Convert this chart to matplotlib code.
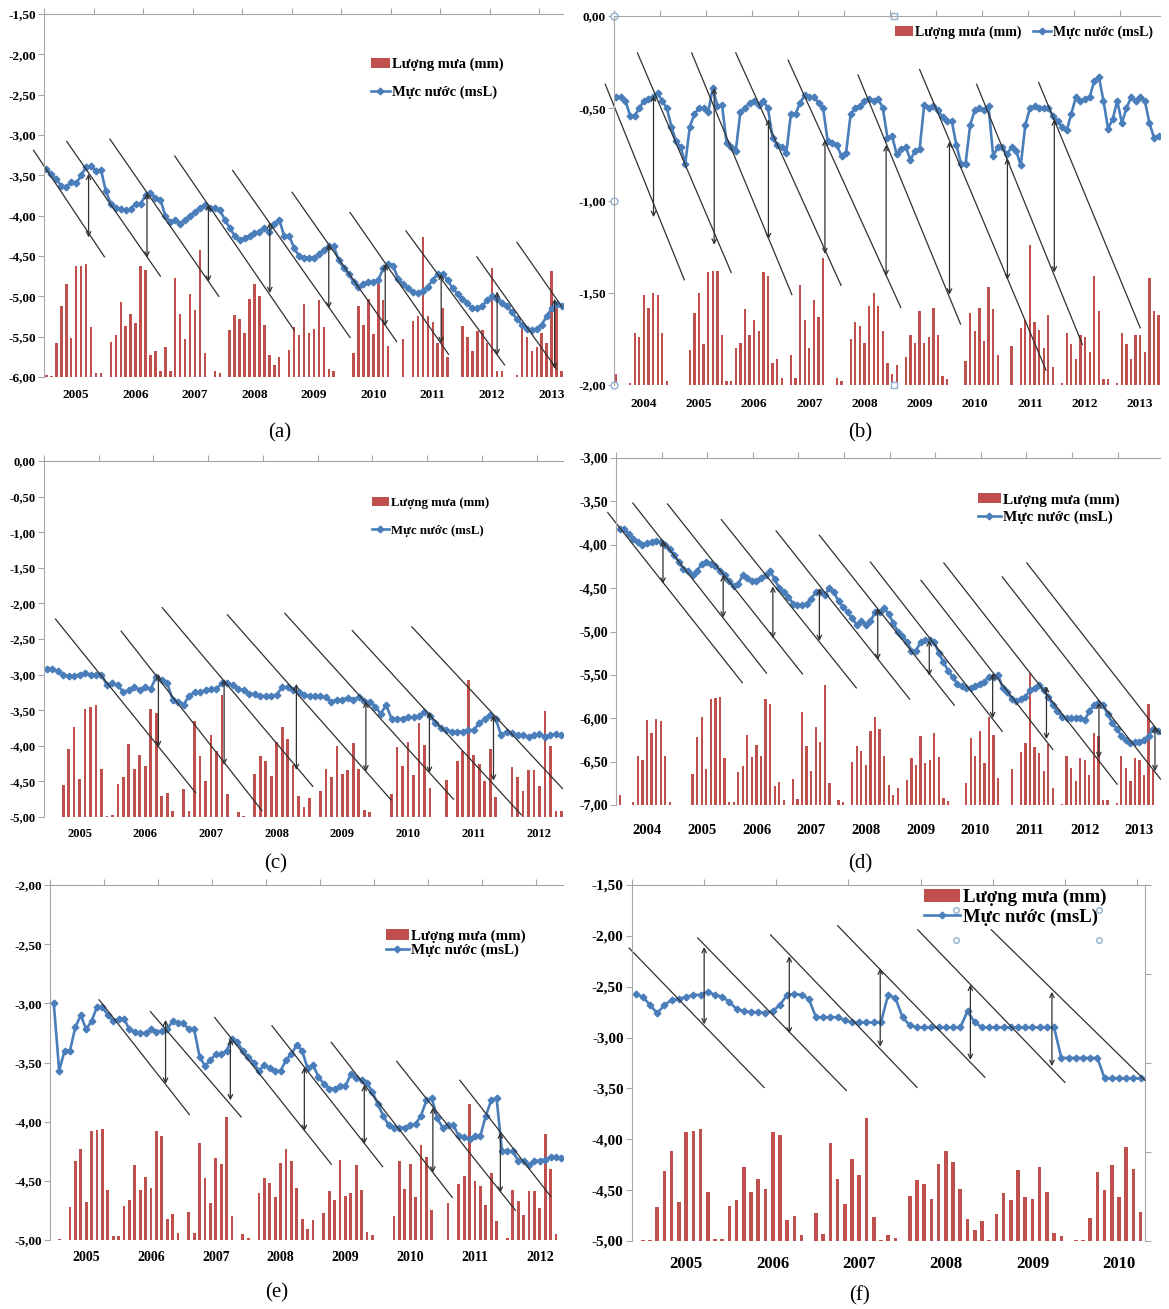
import numpy as np
import matplotlib.pyplot as plt
from matplotlib.lines import Line2D
from matplotlib.patches import Patch

plt.rcParams['font.family'] = ['Liberation Serif', 'DejaVu Serif']

RAIN_LABEL = 'Lượng mưa (mm)'
LEVEL_LABEL = 'Mực nước (msL)'
RED = '#C0504D'
BLUE = '#4A7EBB'
GREY = '#A6A6A6'

# ---------------- (a) ----------------
a_level = [-3.42, -3.48, -3.55, -3.63, -3.65, -3.58, -3.60, -3.50, -3.40, -3.38, -3.45, -3.43,
           -3.70, -3.85, -3.90, -3.92, -3.93, -3.92, -3.85, -3.85, -3.75, -3.72, -3.78, -3.80,
           -4.00, -4.08, -4.05, -4.10, -4.05, -4.00, -3.95, -3.90, -3.87, -3.90, -3.90, -3.93,
           -4.05, -4.15, -4.25, -4.30, -4.28, -4.25, -4.22, -4.20, -4.15, -4.20, -4.10, -4.05,
           -4.25, -4.25, -4.40, -4.50, -4.52, -4.52, -4.52, -4.48, -4.42, -4.38, -4.38, -4.55,
           -4.65, -4.72, -4.82, -4.88, -4.85, -4.82, -4.82, -4.80, -4.65, -4.60, -4.62, -4.78,
           -4.85, -4.90, -4.95, -4.96, -4.93, -4.88, -4.80, -4.72, -4.72, -4.80, -4.90, -4.97,
           -5.03, -5.08, -5.15, -5.15, -5.12, -5.05, -5.00, -5.03, -5.08, -5.12, -5.20, -5.28,
           -5.35, -5.40, -5.42, -5.40, -5.35, -5.25, -5.15, -5.10, -5.12]
a_rain = [4, 2, 84, 176, 230, 96, 276, 276, 280, 124, 10, 10,
          0, 86, 104, 186, 126, 156, 134, 276, 266, 54, 64, 16,
          74, 16, 246, 156, 94, 206, 166, 314, 60, 0, 16, 10,
          0, 116, 154, 144, 110, 194, 230, 200, 130, 54, 30, 50,
          0, 66, 124, 104, 180, 110, 120, 190, 124, 20, 14, 0,
          0, 0, 60, 176, 130, 194, 106, 230, 190, 76, 0, 0,
          94, 0, 140, 150, 346, 150, 136, 84, 170, 50, 0, 0,
          126, 100, 64, 114, 116, 84, 270, 14, 16, 0, 0, 4,
          124, 100, 64, 74, 110, 84, 264, 170, 14]
a_lines = [(-2.6, -3.19, 11.7, -4.51), (4.1, -3.08, 23.0, -4.75), (12.8, -3.05, 34.8, -5.00),
           (25.9, -3.26, 50.0, -5.42), (37.6, -3.44, 61.3, -5.51), (49.6, -3.71, 70.7, -5.56),
           (61.3, -3.96, 81.2, -5.72), (72.6, -4.19, 92.5, -5.85), (86.9, -4.51, 103.0, -5.90),
           (95.0, -4.33, 104.1, -5.13)]
a_arrows = [(8.5, -3.48, -4.27), (20.3, -3.72, -4.52), (32.7, -3.86, -4.82), (45.1, -4.08, -4.96),
            (57.0, -4.35, -5.15), (68.4, -4.60, -5.37), (79.7, -4.72, -5.58), (91.0, -4.94, -5.73),
            (102.6, -5.03, -5.90)]

# ---------------- (b) ----------------
b_level = [-0.44, -0.44, -0.46, -0.54, -0.54, -0.50, -0.46, -0.45, -0.44, -0.42, -0.46, -0.50,
           -0.60, -0.68, -0.71, -0.80, -0.60, -0.53, -0.50, -0.50, -0.52, -0.39, -0.49, -0.48,
           -0.69, -0.71, -0.73, -0.52, -0.50, -0.47, -0.46, -0.48, -0.46, -0.50, -0.66, -0.70,
           -0.71, -0.74, -0.53, -0.53, -0.47, -0.43, -0.44, -0.44, -0.47, -0.50, -0.68, -0.69,
           -0.70, -0.76, -0.74, -0.53, -0.50, -0.49, -0.46, -0.45, -0.46, -0.45, -0.50, -0.66,
           -0.65, -0.75, -0.72, -0.71, -0.78, -0.73, -0.72, -0.48, -0.50, -0.49, -0.51, -0.55,
           -0.57, -0.57, -0.70, -0.80, -0.80, -0.59, -0.51, -0.50, -0.51, -0.49, -0.76, -0.71,
           -0.71, -0.75, -0.71, -0.73, -0.81, -0.59, -0.50, -0.49, -0.50, -0.50, -0.50, -0.54,
           -0.57, -0.60, -0.62, -0.53, -0.44, -0.46, -0.45, -0.44, -0.35, -0.33, -0.46, -0.61,
           -0.56, -0.46, -0.58, -0.50, -0.44, -0.46, -0.44, -0.46, -0.58, -0.66, -0.65]
b_rain = [12, 0, 0, 2, 56, 52, 98, 84, 100, 98, 56, 4,
          0, 0, 0, 0, 38, 78, 100, 44, 122, 124, 124, 54,
          4, 4, 40, 46, 82, 54, 70, 58, 122, 118, 24, 28,
          8, 0, 32, 8, 108, 70, 40, 92, 74, 138, 0, 0,
          8, 4, 0, 50, 68, 64, 46, 86, 100, 86, 58, 24,
          12, 22, 0, 30, 54, 46, 80, 46, 52, 84, 54, 10,
          6, 0, 0, 0, 26, 78, 58, 84, 48, 106, 82, 32,
          0, 0, 42, 0, 62, 70, 152, 68, 60, 40, 76, 20,
          0, 2, 56, 44, 28, 54, 52, 36, 118, 80, 6, 6,
          0, 2, 56, 44, 28, 54, 54, 36, 116, 80, 76]
b_lines = [(-2.4, -0.37, 14.8, -1.43), (4.6, -0.20, 25.0, -1.39), (16.4, -0.20, 38.2, -1.51),
           (26.0, -0.20, 48.9, -1.46), (37.4, -0.24, 61.9, -1.58), (52.6, -0.32, 74.9, -1.67),
           (66.0, -0.29, 93.5, -1.92), (78.4, -0.37, 101.4, -1.78), (91.9, -0.36, 114.0, -1.69)]
b_arrows = [(8.1, -0.43, -1.09), (21.3, -0.39, -1.24), (33.1, -0.56, -1.21), (45.4, -0.67, -1.29),
            (58.7, -0.70, -1.41), (72.5, -0.68, -1.51), (85.1, -0.77, -1.43), (95.3, -0.56, -1.39)]

# ---------------- (c) ----------------
c_level = [-2.92, -2.92, -2.95, -3.00, -3.02, -3.02, -3.00, -2.98, -3.00, -3.00, -3.00, -3.15,
           -3.12, -3.15, -3.25, -3.22, -3.17, -3.22, -3.17, -3.20, -3.03, -3.08, -3.12, -3.35,
           -3.38, -3.42, -3.30, -3.25, -3.25, -3.22, -3.20, -3.20, -3.12, -3.12, -3.15, -3.20,
           -3.22, -3.27, -3.27, -3.30, -3.30, -3.30, -3.28, -3.18, -3.17, -3.22, -3.25, -3.28,
           -3.30, -3.30, -3.30, -3.32, -3.38, -3.35, -3.35, -3.33, -3.35, -3.32, -3.37, -3.38,
           -3.45, -3.55, -3.43, -3.62, -3.62, -3.62, -3.60, -3.60, -3.58, -3.53, -3.58, -3.68,
           -3.75, -3.78, -3.80, -3.80, -3.80, -3.78, -3.78, -3.68, -3.62, -3.57, -3.62, -3.85,
           -3.80, -3.82, -3.85, -3.85, -3.87, -3.85, -3.83, -3.87, -3.85, -3.83, -3.85]
c_rain = [0, 0, 0, 90, 192, 252, 106, 304, 308, 314, 136, 4,
          6, 94, 112, 206, 136, 174, 144, 304, 292, 58, 68, 18,
          0, 78, 18, 270, 172, 102, 230, 184, 344, 64, 0, 14,
          4, 0, 122, 172, 158, 116, 212, 254, 220, 146, 58, 28,
          54, 0, 72, 134, 112, 200, 122, 132, 208, 136, 20, 14,
          0, 0, 0, 66, 198, 144, 212, 118, 264, 202, 82, 0,
          0, 104, 0, 156, 184, 386, 174, 150, 100, 190, 56, 0,
          0, 140, 112, 72, 132, 132, 88, 298, 200, 16, 16]
c_lines = [(1.6, -2.22, 27.2, -4.66), (13.6, -2.39, 39.3, -4.91), (21.1, -2.06, 48.6, -4.57),
           (33.0, -2.16, 62.9, -4.76), (43.5, -2.14, 74.3, -4.75), (55.8, -2.38, 86.7, -4.97),
           (66.7, -2.33, 94.2, -4.60)]
c_arrows = [(20.4, -2.99, -4.02), (32.4, -3.06, -4.27), (45.6, -3.13, -4.34), (58.3, -3.38, -4.36),
            (69.9, -3.52, -4.38), (81.6, -3.57, -4.49)]

# ---------------- (d) ----------------
d_level = [-3.82, -3.82, -3.88, -3.93, -3.97, -4.00, -3.98, -3.97, -3.96, -3.97, -4.00, -4.05,
           -4.12, -4.20, -4.28, -4.30, -4.35, -4.30, -4.22, -4.20, -4.22, -4.25, -4.30, -4.35,
           -4.42, -4.48, -4.45, -4.35, -4.38, -4.42, -4.42, -4.38, -4.35, -4.30, -4.40, -4.50,
           -4.55, -4.60, -4.68, -4.70, -4.70, -4.68, -4.62, -4.55, -4.55, -4.58, -4.50, -4.55,
           -4.65, -4.72, -4.78, -4.85, -4.92, -4.88, -4.92, -4.88, -4.78, -4.77, -4.73, -4.80,
           -4.90, -5.00, -5.05, -5.12, -5.22, -5.22, -5.12, -5.10, -5.10, -5.12, -5.25, -5.35,
           -5.45, -5.52, -5.60, -5.63, -5.65, -5.65, -5.63, -5.60, -5.58, -5.52, -5.52, -5.50,
           -5.65, -5.70, -5.78, -5.80, -5.78, -5.75, -5.68, -5.65, -5.62, -5.68, -5.75, -5.85,
           -5.92, -5.98, -6.00, -6.00, -6.00, -6.00, -6.02, -5.92, -5.85, -5.82, -5.85, -5.95,
           -6.05, -6.12, -6.20, -6.25, -6.28, -6.27, -6.27, -6.25, -6.20, -6.12, -6.15]
d_rain = [22, 0, 0, 6, 114, 104, 196, 166, 198, 194, 112, 6,
          0, 0, 0, 0, 72, 156, 204, 84, 244, 246, 248, 108,
          6, 8, 76, 90, 162, 110, 138, 114, 244, 234, 44, 54,
          12, 0, 60, 14, 214, 136, 78, 180, 146, 276, 50, 0,
          12, 6, 0, 100, 136, 124, 92, 170, 202, 176, 114, 46,
          22, 40, 0, 58, 108, 92, 160, 96, 104, 166, 110, 16,
          10, 0, 0, 0, 50, 154, 114, 170, 96, 202, 162, 62,
          0, 0, 82, 0, 122, 144, 304, 134, 120, 78, 140, 40,
          0, 2, 114, 86, 56, 108, 104, 70, 166, 160, 12, 12,
          0, 4, 114, 86, 56, 108, 104, 70, 232, 80, 0]
d_lines = [(-2.6, -3.63, 26.9, -5.59), (2.9, -3.52, 32.2, -5.48), (10.5, -3.53, 40.1, -5.49),
           (22.3, -3.71, 51.9, -5.65), (34.3, -3.84, 63.6, -5.78), (43.8, -3.89, 73.4, -5.85),
           (55.0, -4.20, 83.9, -6.15), (66.1, -4.41, 95.0, -6.36), (71.1, -4.21, 109.1, -6.76),
           (83.9, -4.37, 118.6, -6.70), (89.3, -4.21, 118.6, -6.18)]
d_arrows = [(9.5, -3.95, -4.45), (22.7, -4.35, -4.84), (33.6, -4.48, -5.08), (43.8, -4.50, -5.11),
            (56.6, -4.73, -5.33), (67.9, -5.10, -5.51), (81.8, -5.48, -6.00), (93.6, -5.63, -6.24),
            (105.1, -5.82, -6.46), (117.4, -6.09, -6.61)]

# ---------------- (e) ----------------
e_level = [-3.00, -3.57, -3.40, -3.40, -3.20, -3.10, -3.22, -3.15, -3.03, -3.03, -3.10, -3.15,
           -3.13, -3.13, -3.22, -3.24, -3.25, -3.25, -3.22, -3.24, -3.23, -3.22, -3.15, -3.17,
           -3.17, -3.22, -3.22, -3.45, -3.53, -3.48, -3.43, -3.43, -3.40, -3.30, -3.33, -3.40,
           -3.45, -3.50, -3.57, -3.52, -3.55, -3.57, -3.57, -3.48, -3.43, -3.35, -3.40, -3.55,
           -3.52, -3.62, -3.68, -3.72, -3.72, -3.70, -3.70, -3.60, -3.63, -3.65, -3.67, -3.75,
           -3.85, -3.95, -4.03, -4.05, -4.05, -4.05, -4.03, -4.02, -3.95, -3.82, -3.80, -3.97,
           -4.05, -4.03, -4.03, -4.12, -4.13, -4.15, -4.12, -4.12, -3.95, -3.82, -3.80, -4.25,
           -4.25, -4.25, -4.33, -4.33, -4.37, -4.33, -4.33, -4.32, -4.30, -4.30, -4.31]
e_rain = [0, 2, 0, 56, 134, 154, 64, 184, 186, 188, 84, 6,
          6, 58, 68, 126, 84, 106, 88, 184, 176, 36, 44, 12,
          0, 48, 12, 164, 104, 62, 138, 128, 208, 40, 0, 10,
          4, 0, 80, 104, 96, 72, 130, 154, 134, 88, 36, 18,
          34, 0, 46, 82, 68, 136, 74, 80, 126, 84, 14, 8,
          0, 0, 0, 40, 134, 86, 128, 72, 160, 140, 50, 0,
          0, 62, 0, 94, 108, 230, 100, 92, 60, 114, 32, 0,
          4, 84, 66, 42, 82, 82, 54, 180, 120, 10, 0]
e_lines = [(8.4, -2.97, 25.1, -3.94), (17.9, -3.07, 34.7, -3.96), (29.8, -3.12, 51.4, -4.36),
           (40.4, -3.19, 60.9, -4.38), (51.4, -3.33, 73.8, -4.64), (63.5, -3.49, 85.5, -4.75),
           (75.2, -3.65, 92.0, -4.63)]
e_arrows = [(20.7, -3.14, -3.68), (32.7, -3.30, -3.82), (46.4, -3.54, -4.08), (57.5, -3.69, -4.19),
            (70.2, -3.88, -4.43), (82.7, -4.09, -4.60)]

# ---------------- (f) ----------------  (first value is Dec 2004)
f_level = [-2.57, -2.60, -2.68, -2.76, -2.68, -2.63, -2.62, -2.60, -2.58, -2.58, -2.55, -2.58,
           -2.60, -2.65, -2.72, -2.74, -2.75, -2.75, -2.76, -2.74, -2.68, -2.58, -2.57, -2.58,
           -2.62, -2.80, -2.80, -2.80, -2.80, -2.83, -2.85, -2.85, -2.85, -2.85, -2.85, -2.58,
           -2.61, -2.80, -2.88, -2.90, -2.90, -2.90, -2.90, -2.90, -2.90, -2.90, -2.74, -2.85,
           -2.90, -2.90, -2.90, -2.90, -2.90, -2.90, -2.90, -2.90, -2.90, -2.90, -2.90, -3.20,
           -3.20, -3.20, -3.20, -3.20, -3.20, -3.40, -3.40, -3.40, -3.40, -3.40, -3.40]
f_rain = [0, 2, 2, 66, 138, 176, 76, 214, 216, 220, 96, 4,
          4, 68, 80, 146, 96, 122, 102, 214, 208, 42, 50, 12,
          0, 56, 14, 192, 122, 72, 162, 130, 242, 48, 2, 12,
          6, 0, 88, 120, 112, 82, 152, 176, 156, 102, 44, 22,
          40, 2, 54, 94, 80, 140, 86, 82, 146, 96, 16, 10,
          0, 2, 2, 46, 136, 100, 150, 86, 184, 142, 58]
f_lines = [(-0.9, -2.12, 17.8, -3.49), (8.6, -2.02, 29.2, -3.52), (18.7, -1.99, 39.0, -3.49),
           (28.0, -1.90, 48.4, -3.39), (39.1, -1.94, 59.5, -3.44), (49.3, -1.94, 70.6, -3.42)]
f_arrows = [(9.5, -2.11, -2.87), (21.3, -2.20, -2.96), (33.9, -2.32, -3.09), (46.4, -2.48, -3.22),
            (57.7, -2.55, -3.28)]

W, H = 1169, 1309
fig = plt.figure(figsize=(W / 100, H / 100), dpi=100)


def fmt(v):
    return f'{v:.2f}'.replace('.', ',')


def panel(box, level, rain, lines, arrows, ylim, first_year, first_jan, xlim,
          rain_max, tick_fs, year_fs, year_pad, leg, caption, cap_xy, right_spine=False):
    l, t, r, b = box
    ax = fig.add_axes([l / W, 1 - b / H, (r - l) / W, (b - t) / H])
    rax = ax.twinx()
    ax.set_zorder(2)
    ax.patch.set_visible(False)
    rax.set_zorder(1)

    x = np.arange(len(level))
    rax.bar(np.arange(len(rain)), rain, width=0.5, color=RED, linewidth=0)
    rax.set_ylim(0, rain_max)

    ax.plot(x, level, color=BLUE, lw=1.9, marker='D', markersize=3.4)
    for x0, y0, x1, y1 in lines:
        ax.plot([x0, x1], [y0, y1], color='#303030', lw=0.9, clip_on=False)
    for xa, top, bot in arrows:
        ax.annotate('', xy=(xa, bot), xytext=(xa, top),
                    arrowprops=dict(arrowstyle='<->', color='#303030', lw=0.9,
                                    mutation_scale=8, shrinkA=0, shrinkB=0))

    ax.set_xlim(*xlim)
    rax.set_xlim(*xlim)
    ax.set_ylim(*ylim)
    ticks = np.arange(ylim[0], ylim[1] + 0.01, 0.5)
    ax.set_yticks(ticks)
    ax.set_yticklabels([fmt(v) for v in ticks], fontsize=tick_fs, fontweight='bold')

    # top axis ticks every 10 months, year labels at bottom
    ax.set_xticks(np.arange(xlim[0], xlim[1], 10))
    years, centers = [], []
    k = 0
    while first_jan + 12 * k + 6 < xlim[1]:
        years.append(str(first_year + k))
        centers.append(first_jan + 12 * k + 6)
        k += 1
    ax.set_xticks(centers, minor=True)
    ax.set_xticklabels(years, minor=True, fontsize=year_fs, fontweight='bold')
    ax.tick_params(axis='x', which='major', top=True, bottom=False, labeltop=False,
                   labelbottom=False, length=4, color=GREY)
    ax.tick_params(axis='x', which='minor', bottom=True, top=False, length=0, pad=year_pad)
    ax.tick_params(axis='y', length=4, color=GREY, pad=2)

    for s in ['bottom', 'right']:
        ax.spines[s].set_visible(False)
    for s in ['top', 'left']:
        ax.spines[s].set_color(GREY)
    for s in ['top', 'left', 'bottom']:
        rax.spines[s].set_visible(False)
    if right_spine:
        rax.spines['right'].set_color(GREY)
        rax.set_yticks(np.linspace(0, rain_max, 5))
        rax.tick_params(axis='y', length=4, color=GREY, labelright=False)
    else:
        rax.spines['right'].set_visible(False)
        rax.set_yticks([])

    handles = [Patch(facecolor=RED, edgecolor='none'),
               Line2D([], [], color=BLUE, lw=1.9, marker='D', markersize=3.4)]
    lx, ly, fs, ncol, spacing, hl = leg
    ax.legend(handles, [RAIN_LABEL, LEVEL_LABEL], loc='upper left', bbox_to_anchor=(lx, ly),
              frameon=False, ncol=ncol, labelspacing=spacing, handlelength=hl,
              handletextpad=0.15, columnspacing=0.8, borderaxespad=0, borderpad=0,
              prop={'weight': 'bold', 'size': fs})
    fig.text(cap_xy[0] / W, 1 - cap_xy[1] / H, caption, fontsize=15,
             ha='center', va='center')
    return ax


panel((44, 14, 563, 377), a_level, a_rain, a_lines, a_arrows, (-6.0, -1.5), 2005, 0,
      (-0.5, 104.3), 900, 9.5, 9.5, 9, (0.63, 0.88, 10.5, 1, 1.0, 1.3), '(a)', (280, 433))

axb = panel((614, 16, 1160, 385), b_level, b_rain, b_lines, b_arrows, (-2.0, 0.0), 2004, 0,
            (-0.5, 118.3), 400, 9.5, 9.5, 9, (0.515, 0.975, 10, 2, 0.5, 1.3), '(b)', (860, 433))
# chart-area selection handles visible in the source image
axb.plot([0, 0, 0], [1, 0.5, 0], transform=axb.transAxes, clip_on=False, ls='none',
         marker='o', ms=5, mfc='white', mec='#8FB0CF')
axb.plot([0.513, 0.513], [1, 0], transform=axb.transAxes, clip_on=False, ls='none',
         marker='s', ms=4.5, mfc='white', mec='#8FB0CF')

panel((44, 461, 563, 817), c_level, c_rain, c_lines, c_arrows, (-5.0, 0.0), 2005, 0,
      (-0.5, 94.3), 1000, 9, 9, 8, (0.632, 0.9, 9.3, 1, 1.25, 1.3), '(c)', (276, 864))

panel((616, 458, 1160, 805), d_level, d_rain, d_lines, d_arrows, (-7.0, -3.0), 2004, 0,
      (-0.8, 118.5), 800, 10, 10.5, 14, (0.665, 0.9, 11, 1, 0.25, 1.5), '(d)', (860, 864))

panel((50, 885, 563, 1240), e_level, e_rain, e_lines, e_arrows, (-5.0, -2.0), 2005, 0,
      (-0.7, 94.3), 600, 9.5, 10, 8, (0.655, 0.875, 10.8, 1, 0.05, 1.5), '(e)', (277, 1293))

axf = panel((632, 885, 1145, 1241), f_level, f_rain, f_lines, f_arrows, (-5.0, -1.5), 2005, 1,
            (-0.5, 70.6), 700, 11, 12, 11, (0.57, 0.99, 13.5, 1, 0.15, 1.9), '(f)', (860, 1296),
            right_spine=True)
axf.plot([0.632, 0.632, 0.91, 0.91], [0.93, 0.845, 0.93, 0.845], transform=axf.transAxes,
         clip_on=False, ls='none', marker='o', ms=4, mfc='white', mec='#8FB0CF')

fig.savefig('out.png', dpi=100)
